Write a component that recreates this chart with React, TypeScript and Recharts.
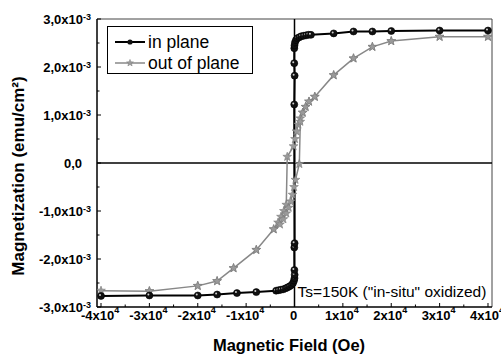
import React from 'react';
import { LineChart, Line, XAxis, YAxis, ReferenceLine, Legend } from 'recharts';

const FONT = '"Liberation Sans", Arial, Helvetica, sans-serif';

// Magnetic field (Oe) and magnetization (x10^-3 emu/cm^2)
const inPlaneH = [
  -40000, -30000, -20000, -16000, -11900, -7900,
  -3800, -3300, -2800, -2300, -1800, -1400, -1000, -600, -300, -100, 0,
  30, -20, -40, 20, -50, 30, -50,
  -40, 0, 100, 300, 600, 1000, 1400, 1900, 2400, 2900, 3400,
  8100, 12200, 16100, 20000, 30000, 40000,
];
const inPlaneM = [
  -2.77, -2.76, -2.76, -2.74, -2.71, -2.69,
  -2.66, -2.65, -2.64, -2.63, -2.61, -2.59, -2.57, -2.54, -2.5, -2.45, -2.4,
  -2.33, -2.23, -1.76, -1.67, 1.22, 1.82, 2.08,
  2.39, 2.45, 2.51, 2.56, 2.6, 2.62, 2.64, 2.65, 2.66, 2.67, 2.67,
  2.7, 2.74, 2.74, 2.75, 2.76, 2.76,
];

const outPlaneH = [
  40000, 30000, 20000, 16100, 12200, 8100, 4200,
  3000, 2300, 1700, 1200, 800, 400, 100, -200,
  -1500, -1700,
  -2200, -2800, -3400, -4300, -7900, -12600, -16000, -20000, -30000, -40000,
  -30000, -20000, -16000, -12600, -7900, -4300,
  -3000, -2300, -1700, -1200, -800, -400, -100, 200,
  1000, 1200,
  1700, 2300, 3000, 4200, 8100, 12200, 16100, 20000, 30000, 40000,
];
const outPlaneM = [
  2.63, 2.63, 2.54, 2.42, 2.18, 1.83, 1.38,
  1.28, 1.17, 1.05, 0.93, 0.8, 0.66, 0.5, 0.35,
  0.13, -0.87,
  -1.0, -1.12, -1.24, -1.38, -1.81, -2.19, -2.46, -2.56, -2.67, -2.66,
  -2.67, -2.56, -2.46, -2.19, -1.81, -1.38,
  -1.28, -1.17, -1.05, -0.93, -0.8, -0.66, -0.5, -0.35,
  -0.02, 0.86,
  1.05, 1.17, 1.28, 1.38, 1.83, 2.18, 2.42, 2.54, 2.63, 2.63,
];

const xTicks = [
  -40000, -35000, -30000, -25000, -20000, -15000, -10000, -5000, 0,
  5000, 10000, 15000, 20000, 25000, 30000, 35000, 40000,
];
const xMajor = [-40000, -30000, -20000, -10000, 0, 10000, 20000, 30000, 40000];
const xLabelBase = ['-4x10', '-3x10', '-2x10', '-1x10', '0', '1x10', '2x10', '3x10', '4x10'];
const xLabelExp = ['4', '4', '4', '4', '', '4', '4', '4', '4'];

const yTicks = [-3, -2.5, -2, -1.5, -1, -0.5, 0, 0.5, 1, 1.5, 2, 2.5, 3];
const yMajor = [-3, -2, -1, 0, 1, 2, 3];
const yLabelBase = ['-3,0x10', '-2,0x10', '-1,0x10', '0,0', '1,0x10', '2,0x10', '3,0x10'];
const yLabelExp = ['-3', '-3', '-3', '', '-3', '-3', '-3'];

const X_DOMAIN: [number, number] = [-40830, 40830];
const Y_DOMAIN: [number, number] = [-3, 3];

const inPlane = inPlaneH.map((h, i) => ({ h, m: inPlaneM[i] }));
const outPlane = outPlaneH.map((h, i) => ({ h, m: outPlaneM[i] }));

const starPath = (cx: number, cy: number, R: number, r: number) => {
  let d = '';
  for (let i = 0; i < 10; i++) {
    const rad = i % 2 === 0 ? R : r;
    const a = -Math.PI / 2 + (i * Math.PI) / 5;
    d += (i === 0 ? 'M' : 'L') + (cx + rad * Math.cos(a)).toFixed(2) + ',' + (cy + rad * Math.sin(a)).toFixed(2);
  }
  return d + 'Z';
};

const Ball = (p: any) => {
  if (p.cx == null || p.cy == null) return <g key={p.index} />;
  return (
    <g key={`b${p.index}`}>
      <circle cx={p.cx} cy={p.cy} r={3.5} fill="#111" stroke="#000" strokeWidth={0.6} />
      <circle cx={p.cx - 1} cy={p.cy - 1} r={1} fill="#cfcfcf" />
    </g>
  );
};

const Star = (p: any) => {
  if (p.cx == null || p.cy == null) return <g key={p.index} />;
  return (
    <path
      key={`s${p.index}`}
      d={starPath(p.cx, p.cy, 4.6, 1.9)}
      fill="#9a9a9a"
      stroke="#7a7a7a"
      strokeWidth={0.6}
    />
  );
};

const XTick = (props: any) => {
  const { x, y, payload } = props;
  const v = payload.value;
  const idx = xMajor.indexOf(v);
  const major = idx >= 0;
  return (
    <g>
      <line x1={x} x2={x} y1={y} y2={y - (major ? 4 : 2.5)} stroke="#000" strokeWidth={1} />
      {major && (
        <text x={x - 1} y={y + 13} textAnchor="middle" fontFamily={FONT} fontWeight="bold" fontSize={13} fill="#000">
          <tspan>{xLabelBase[idx]}</tspan>
          {xLabelExp[idx] && (
            <tspan dy={-7} fontSize={9}>
              {xLabelExp[idx]}
            </tspan>
          )}
        </text>
      )}
    </g>
  );
};

const YTick = (props: any) => {
  const { x, y, payload } = props;
  const v = payload.value;
  const idx = yMajor.indexOf(v);
  const major = idx >= 0;
  const hasExp = major && yLabelExp[idx] !== '';
  return (
    <g>
      <line x1={x} x2={x + (major ? 4 : 2.5)} y1={y} y2={y} stroke="#000" strokeWidth={1} />
      {major && (
        <text x={hasExp ? 91 : 82} y={y + 5} textAnchor="end" fontFamily={FONT} fontWeight="bold" fontSize={13} fill="#000">
          <tspan>{yLabelBase[idx]}</tspan>
          {hasExp && (
            <tspan dy={-4.5} fontSize={9}>
              {yLabelExp[idx]}
            </tspan>
          )}
        </text>
      )}
    </g>
  );
};

const LegendBox = () => (
  <svg width={146} height={48} style={{ display: 'block' }}>
    <rect x={0.5} y={0.5} width={145} height={47} fill="#fff" stroke="#000" strokeWidth={1} />
    <line x1={8} x2={38} y1={16} y2={16} stroke="#000" strokeWidth={2} />
    <circle cx={23} cy={16} r={2.6} fill="#111" />
    <text x={41} y={22} fontFamily={FONT} fontSize={17.5} fill="#000">in plane</text>
    <line x1={8} x2={38} y1={37} y2={37} stroke="#888" strokeWidth={1.5} />
    <path d={starPath(23, 37, 3.6, 1.5)} fill="#9a9a9a" stroke="#7a7a7a" strokeWidth={0.5} />
    <text x={41} y={43} fontFamily={FONT} fontSize={17.5} fill="#000">out of plane</text>
  </svg>
);

export default function App() {
  return (
    <div style={{ position: 'absolute', left: 0, top: 0, width: 501, height: 357, background: '#fff' }}>
      <LineChart width={501} height={357} margin={{ top: 19, right: 9, bottom: 0, left: 0 }}>
        <XAxis
          type="number"
          dataKey="h"
          domain={X_DOMAIN}
          allowDataOverflow
          ticks={xTicks}
          interval={0}
          tick={<XTick />}
          tickLine={false}
          tickSize={0}
          tickMargin={0}
          height={50}
          axisLine={{ stroke: '#000', strokeWidth: 1.5 }}
          label={{
            content: () => (
              <text x={289} y={351} textAnchor="middle" fontFamily={FONT} fontWeight="bold" fontSize={16.5} fill="#000">
                Magnetic Field (Oe)
              </text>
            ),
          }}
        />
        <YAxis
          type="number"
          domain={Y_DOMAIN}
          allowDataOverflow
          ticks={yTicks}
          interval={0}
          tick={<YTick />}
          tickLine={false}
          tickSize={0}
          tickMargin={0}
          width={97}
          axisLine={{ stroke: '#000', strokeWidth: 1.5 }}
          label={{
            content: () => (
              <text
                transform="translate(24,176) rotate(-90)"
                textAnchor="middle"
                fontFamily={FONT}
                fontWeight="bold"
                fontSize={17}
                fill="#000"
              >
                Magnetization (emu/cm²)
              </text>
            ),
          }}
        />
        <ReferenceLine y={Y_DOMAIN[1]} stroke="#444" strokeWidth={1} />
        <ReferenceLine x={X_DOMAIN[1]} stroke="#444" strokeWidth={1} />
        <ReferenceLine y={0} stroke="#000" strokeWidth={1.5} />
        <ReferenceLine
          x={0}
          stroke="#000"
          strokeWidth={1.5}
          label={{
            content: (p: any) => (
              <text
                x={p.viewBox.x + 3}
                y={p.viewBox.y + p.viewBox.height - 10}
                fontFamily={FONT}
                fontSize={15.5}
                fill="#000"
              >
                Ts=150K ("in-situ" oxidized)
              </text>
            ),
          }}
        />
        <Legend
          layout="vertical"
          align="center"
          verticalAlign="middle"
          wrapperStyle={{ position: 'absolute', left: 107, top: 26, width: 146, height: 48 }}
          content={() => <LegendBox />}
        />
        <Line
          data={outPlane}
          dataKey="m"
          name="out of plane"
          stroke="#888"
          strokeWidth={1.5}
          dot={Star}
          activeDot={false}
          isAnimationActive={false}
        />
        <Line
          data={inPlane}
          dataKey="m"
          name="in plane"
          stroke="#000"
          strokeWidth={2}
          dot={Ball}
          activeDot={false}
          isAnimationActive={false}
        />
      </LineChart>
    </div>
  );
}
